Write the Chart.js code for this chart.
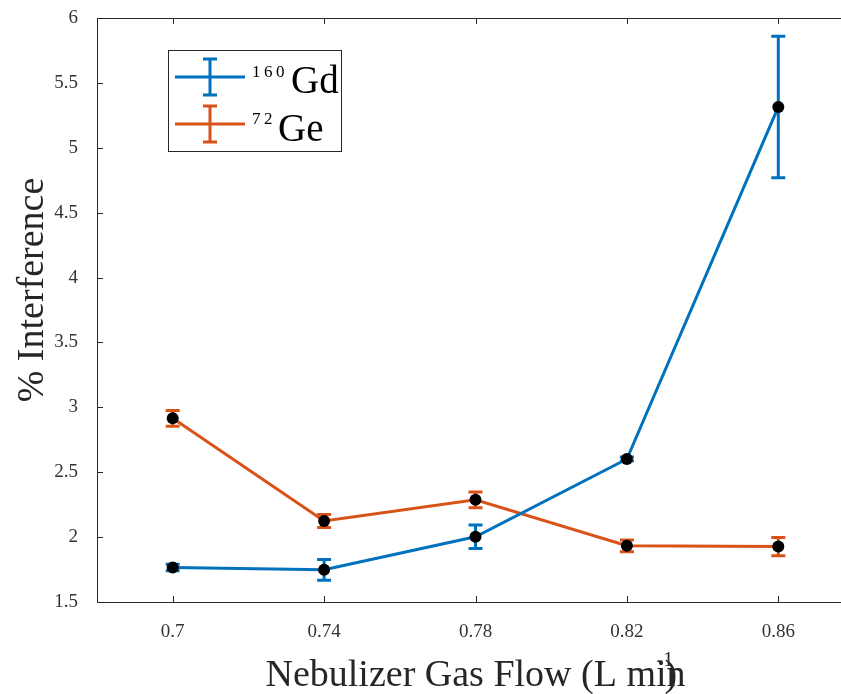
<!DOCTYPE html>
<html>
<head>
<meta charset="utf-8">
<script src="https://cdn.jsdelivr.net/npm/chart.js@4"></script>
<style>
 body { margin:0; overflow:hidden; background:#fff; }
 #wrap { width:880px; height:694px; }
</style>
</head>
<body>
<div id="wrap"><canvas id="myChart" width="880" height="694"></canvas></div>
<script>
// values
var flows = ["0.7", "0.74", "0.78", "0.82", "0.86"];
var gdValues = [1.765, 1.748, 2.003, 2.602, 5.315];
var gdErrors = [0.025, 0.08, 0.09, 0.015, 0.545];
var geValues = [2.915, 2.125, 2.287, 1.933, 1.927];
var geErrors = [0.06, 0.05, 0.06, 0.045, 0.07];
var yTicks = [1.5, 2, 2.5, 3, 3.5, 4, 4.5, 5, 5.5, 6];

var blue = "#0072BD";
var orange = "#D95319";
var axisColor = "#262626";
var serif = "'Liberation Serif', 'Times New Roman', serif";

var errorBars = {
  id: "errorBars",
  beforeDatasetsDraw: function(chart) {
    var ctx = chart.ctx;
    var xs = chart.scales.x, ys = chart.scales.y;
    chart.data.datasets.forEach(function(ds) {
      ctx.save();
      ctx.strokeStyle = ds.borderColor;
      ctx.lineWidth = 3;
      ds.data.forEach(function(v, i) {
        var x = xs.getPixelForValue(i);
        var top = ys.getPixelForValue(v + ds.errors[i]);
        var bot = ys.getPixelForValue(v - ds.errors[i]);
        ctx.beginPath();
        ctx.moveTo(x, top); ctx.lineTo(x, bot);
        ctx.moveTo(x - 7, top); ctx.lineTo(x + 7, top);
        ctx.moveTo(x - 7, bot); ctx.lineTo(x + 7, bot);
        ctx.stroke();
      });
      ctx.restore();
    });
  }
};

var frame = {
  id: "frame",
  afterDraw: function(chart) {
    var ctx = chart.ctx, a = chart.chartArea;
    var xs = chart.scales.x, ys = chart.scales.y;
    ctx.save();
    ctx.strokeStyle = axisColor;
    ctx.lineWidth = 1;
    ctx.strokeRect(a.left + 0.5, a.top + 0.5, a.right - a.left, a.bottom - a.top);
    ctx.beginPath();
    flows.forEach(function(f, i) {
      var x = Math.round(xs.getPixelForValue(i)) + 0.5;
      ctx.moveTo(x, a.bottom); ctx.lineTo(x, a.bottom - 6);
      ctx.moveTo(x, a.top); ctx.lineTo(x, a.top + 6);
    });
    yTicks.forEach(function(t) {
      var y = Math.round(ys.getPixelForValue(t)) + 0.5;
      ctx.moveTo(a.left, y); ctx.lineTo(a.left + 6, y);
      ctx.moveTo(a.right, y); ctx.lineTo(a.right - 6, y);
    });
    ctx.stroke();

    // axis titles
    ctx.fillStyle = axisColor;
    ctx.font = "38px " + serif;
    ctx.textBaseline = "alphabetic";
    var main = "Nebulizer Gas Flow (L min";
    var w = ctx.measureText(main).width;
    var x0 = (a.left + a.right) / 2 - w / 2;
    ctx.textAlign = "left";
    ctx.fillText(main, x0, 686);
    var nStart = x0 + ctx.measureText("Nebulizer Gas Flow (L mi").width;
    ctx.fillText(")", nStart - 2, 686);
    ctx.font = "20px " + serif;
    ctx.fillText("-1", nStart - 10, 666);

    ctx.save();
    ctx.translate(43, 290);
    ctx.rotate(-Math.PI / 2);
    ctx.font = "38px " + serif;
    ctx.textAlign = "center";
    ctx.fillText("% Interference", 0, 0);
    ctx.restore();

    // legend
    ctx.fillStyle = "#fff";
    ctx.fillRect(168, 50, 173, 101);
    ctx.strokeStyle = axisColor;
    ctx.strokeRect(168.5, 50.5, 173, 101);
    var items = [
      { color: blue, y: 77, sup: "160", base: "Gd", supX: 252, supY: 77, baseX: 291, baseY: 93 },
      { color: orange, y: 124, sup: "72", base: "Ge", supX: 252, supY: 124, baseX: 278, baseY: 141 }
    ];
    items.forEach(function(it) {
      ctx.strokeStyle = it.color;
      ctx.lineWidth = 3;
      ctx.beginPath();
      ctx.moveTo(175, it.y); ctx.lineTo(245, it.y);
      ctx.moveTo(210, it.y - 18); ctx.lineTo(210, it.y + 18);
      ctx.moveTo(203, it.y - 18); ctx.lineTo(217, it.y - 18);
      ctx.moveTo(203, it.y + 18); ctx.lineTo(217, it.y + 18);
      ctx.stroke();
      ctx.fillStyle = "#000";
      ctx.font = "17px " + serif;
      ctx.textAlign = "left";
      for (var k = 0; k < it.sup.length; k++) {
        ctx.fillText(it.sup[k], it.supX + k * 12, it.supY);
      }
      ctx.font = "39px " + serif;
      ctx.fillText(it.base, it.baseX, it.baseY);
    });
    ctx.restore();
  }
};

function printChart() {
  var ctx = document.getElementById("myChart").getContext("2d");
  new Chart(ctx, {
    type: "line",
    data: {
      labels: flows,
      datasets: [{
        label: "160Gd",
        data: gdValues,
        errors: gdErrors,
        borderColor: blue,
        borderWidth: 3,
        pointRadius: 6,
        pointBackgroundColor: "#000",
        pointBorderColor: "#000",
        pointBorderWidth: 0,
        tension: 0
      }, {
        label: "72Ge",
        data: geValues,
        errors: geErrors,
        borderColor: orange,
        borderWidth: 3,
        pointRadius: 6,
        pointBackgroundColor: "#000",
        pointBorderColor: "#000",
        pointBorderWidth: 0,
        tension: 0
      }]
    },
    options: {
      responsive: false,
      animation: false,
      layout: { padding: { top: 18, right: 26, left: 0, bottom: 0 } },
      plugins: { legend: { display: false }, tooltip: { enabled: false } },
      scales: {
        x: {
          type: "category",
          offset: true,
          grid: { display: false },
          border: { display: false },
          ticks: { color: "#333", font: { family: serif, size: 19 }, padding: 11, maxRotation: 0 },
          afterFit: function(s) { s.height = 92; s.paddingLeft = 0; s.paddingRight = 0; }
        },
        y: {
          min: 1.5, max: 6,
          grid: { display: false },
          border: { display: false },
          ticks: {
            stepSize: 0.5, color: "#333", font: { family: serif, size: 19 }, padding: 11,
            callback: function(v) { return String(v); }
          },
          afterFit: function(s) { s.width = 97; s.paddingTop = 0; s.paddingBottom = 0; }
        }
      }
    },
    plugins: [errorBars, frame]
  });
}

printChart();
</script>
</body>
</html>
